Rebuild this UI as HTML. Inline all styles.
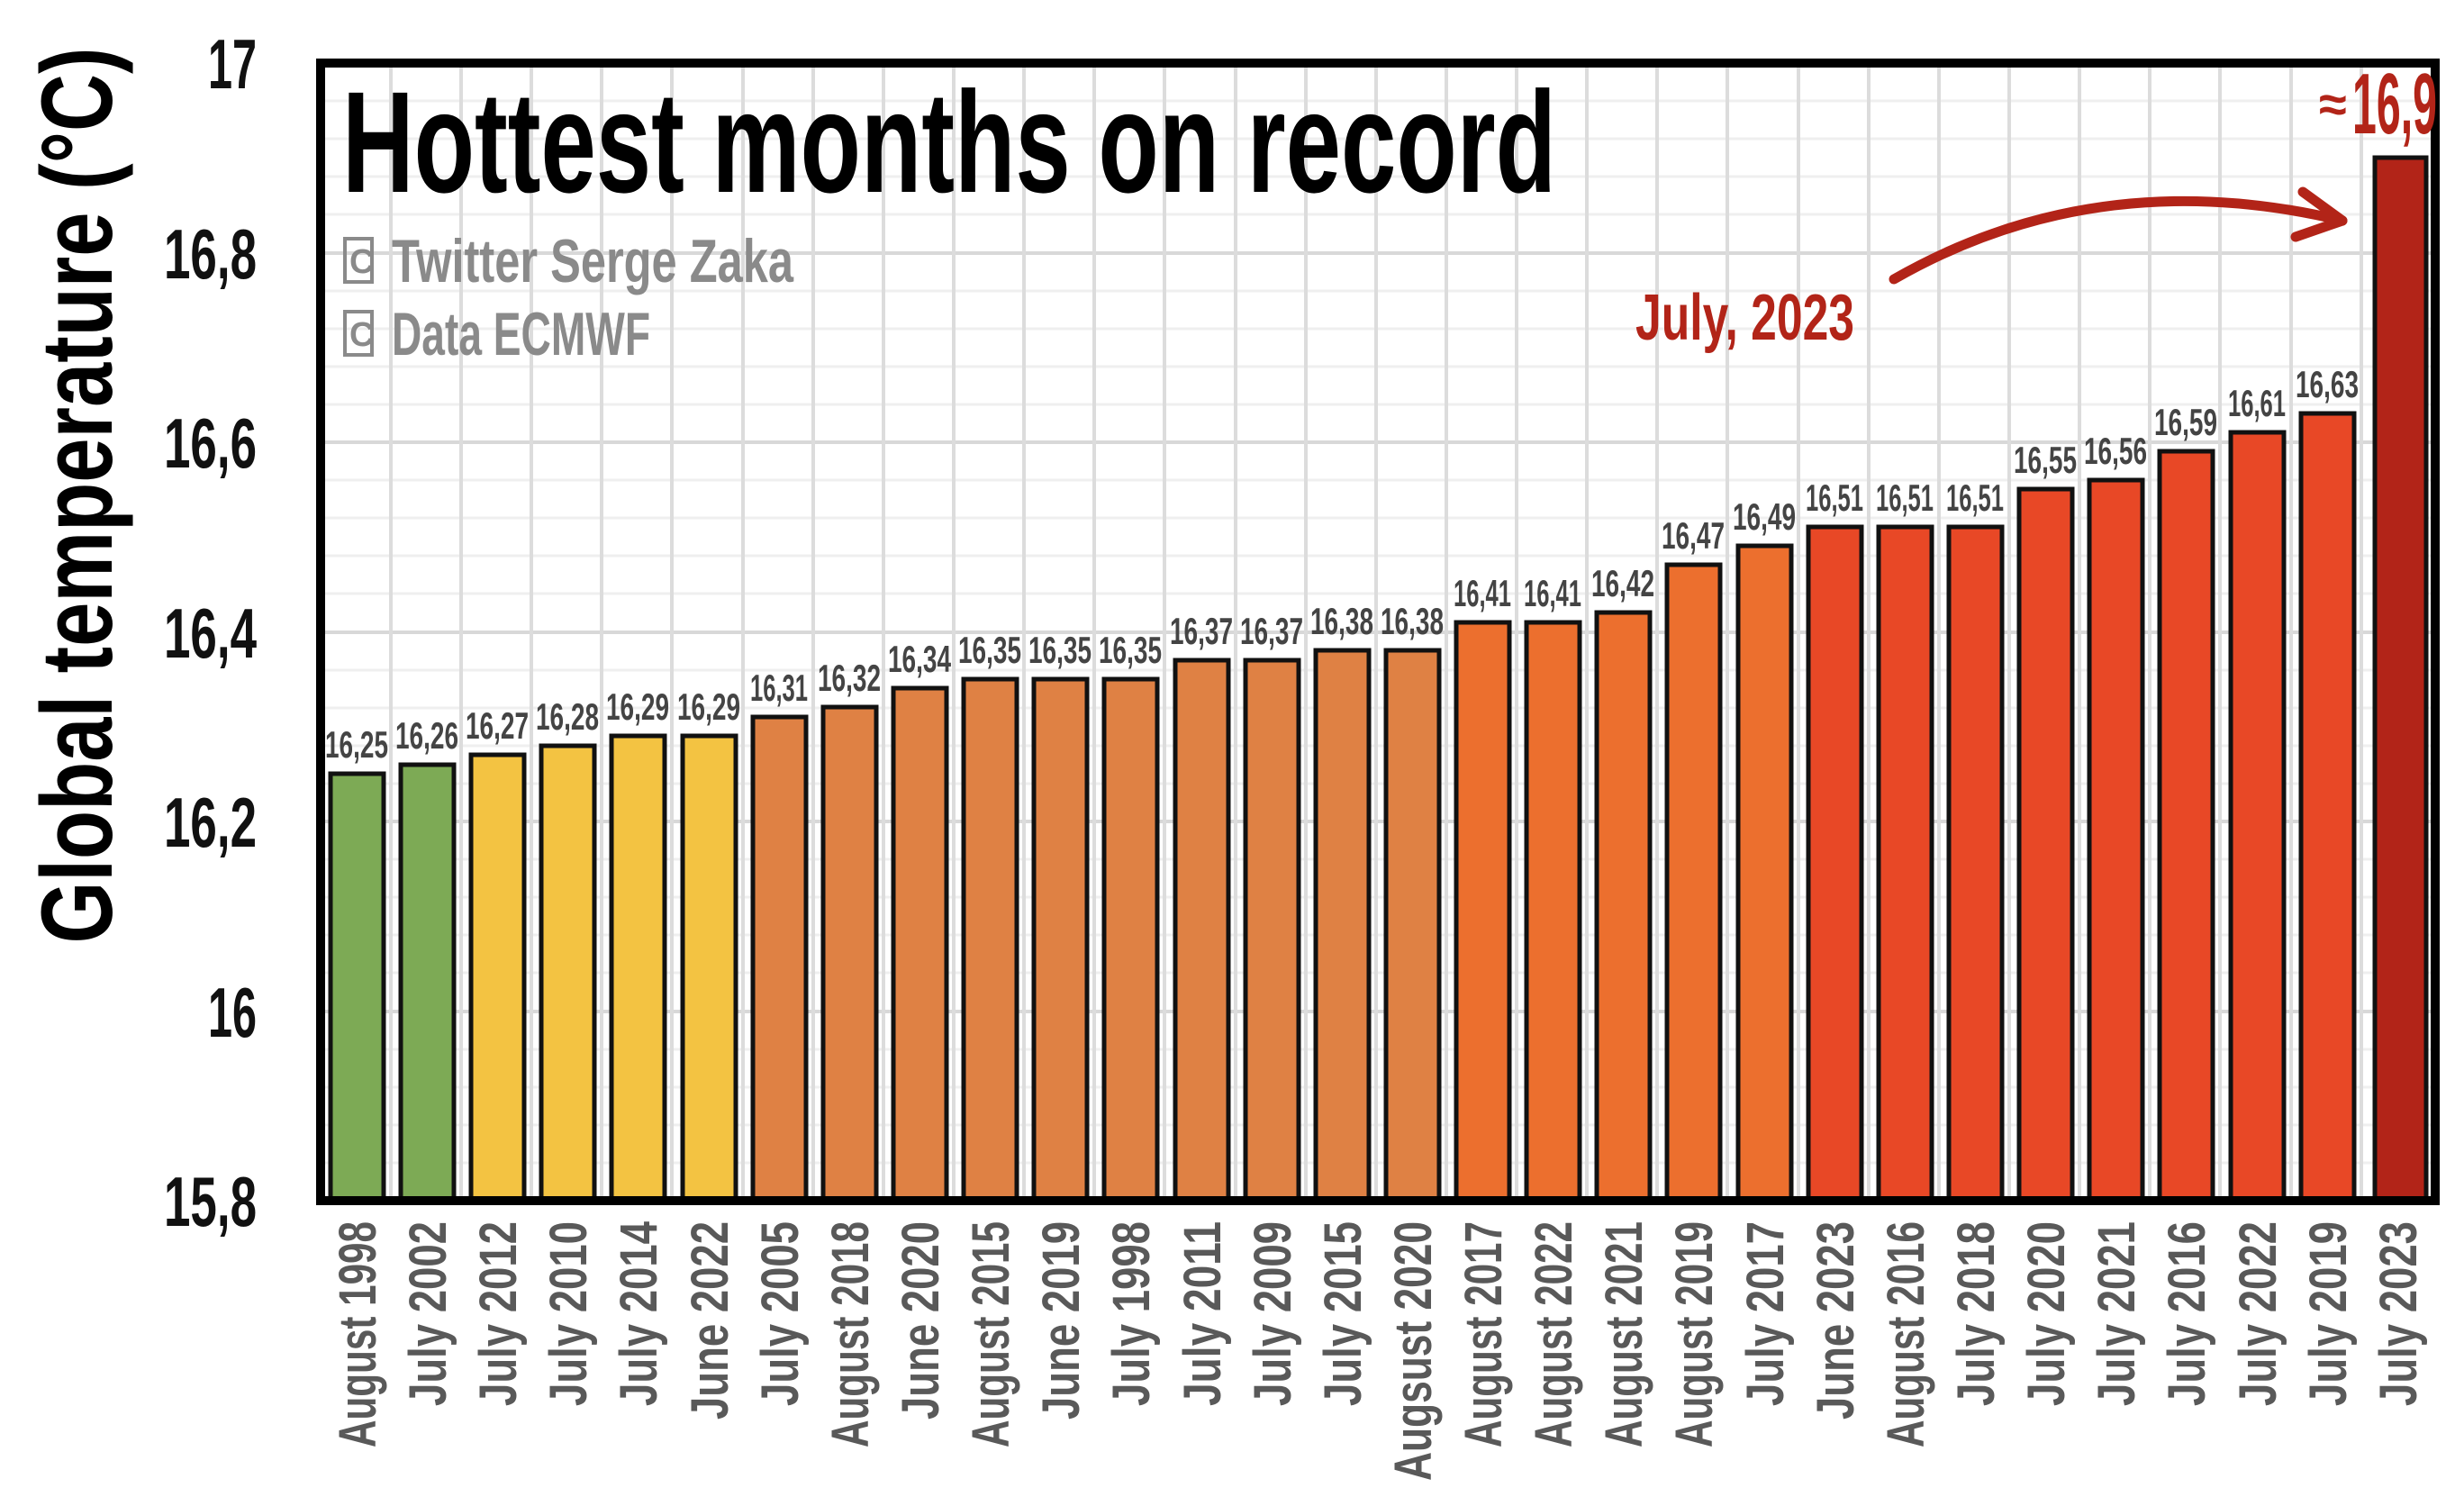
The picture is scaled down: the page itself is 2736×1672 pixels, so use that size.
<!DOCTYPE html>
<html><head><meta charset="utf-8"><style>html,body{margin:0;padding:0;background:#fff}svg{display:block}</style></head>
<body>
<svg width="2736" height="1672" viewBox="0 0 2736 1672" xmlns="http://www.w3.org/2000/svg" font-family="'Liberation Sans Narrow','Liberation Sans',sans-serif" font-weight="bold">
<g stroke="#efefef" stroke-width="3">
<line x1="356" x2="2704" y1="112" y2="112"/><line x1="356" x2="2704" y1="154" y2="154"/><line x1="356" x2="2704" y1="196" y2="196"/><line x1="356" x2="2704" y1="238" y2="238"/>
<line x1="356" x2="2704" y1="323" y2="323"/><line x1="356" x2="2704" y1="365" y2="365"/><line x1="356" x2="2704" y1="407" y2="407"/><line x1="356" x2="2704" y1="449" y2="449"/>
<line x1="356" x2="2704" y1="533" y2="533"/><line x1="356" x2="2704" y1="575" y2="575"/><line x1="356" x2="2704" y1="617" y2="617"/><line x1="356" x2="2704" y1="659" y2="659"/>
<line x1="356" x2="2704" y1="744" y2="744"/><line x1="356" x2="2704" y1="786" y2="786"/><line x1="356" x2="2704" y1="828" y2="828"/><line x1="356" x2="2704" y1="870" y2="870"/>
<line x1="356" x2="2704" y1="954" y2="954"/><line x1="356" x2="2704" y1="996" y2="996"/><line x1="356" x2="2704" y1="1038" y2="1038"/><line x1="356" x2="2704" y1="1080" y2="1080"/>
<line x1="356" x2="2704" y1="1165" y2="1165"/><line x1="356" x2="2704" y1="1207" y2="1207"/><line x1="356" x2="2704" y1="1249" y2="1249"/><line x1="356" x2="2704" y1="1291" y2="1291"/>
</g>
<g stroke="#d8d8d8" stroke-width="4">
<line x1="356" x2="2704" y1="281" y2="281"/><line x1="356" x2="2704" y1="491" y2="491"/><line x1="356" x2="2704" y1="702" y2="702"/><line x1="356" x2="2704" y1="912" y2="912"/><line x1="356" x2="2704" y1="1123" y2="1123"/>
</g>
<g stroke="#dcdcdc" stroke-width="4">
<line x1="434" x2="434" y1="70" y2="1333"/><line x1="512" x2="512" y1="70" y2="1333"/><line x1="590" x2="590" y1="70" y2="1333"/><line x1="668" x2="668" y1="70" y2="1333"/><line x1="746" x2="746" y1="70" y2="1333"/><line x1="825" x2="825" y1="70" y2="1333"/><line x1="903" x2="903" y1="70" y2="1333"/><line x1="981" x2="981" y1="70" y2="1333"/><line x1="1059" x2="1059" y1="70" y2="1333"/><line x1="1137" x2="1137" y1="70" y2="1333"/><line x1="1215" x2="1215" y1="70" y2="1333"/><line x1="1293" x2="1293" y1="70" y2="1333"/><line x1="1372" x2="1372" y1="70" y2="1333"/><line x1="1450" x2="1450" y1="70" y2="1333"/><line x1="1528" x2="1528" y1="70" y2="1333"/><line x1="1606" x2="1606" y1="70" y2="1333"/><line x1="1684" x2="1684" y1="70" y2="1333"/><line x1="1762" x2="1762" y1="70" y2="1333"/><line x1="1840" x2="1840" y1="70" y2="1333"/><line x1="1918" x2="1918" y1="70" y2="1333"/><line x1="1997" x2="1997" y1="70" y2="1333"/><line x1="2075" x2="2075" y1="70" y2="1333"/><line x1="2153" x2="2153" y1="70" y2="1333"/><line x1="2231" x2="2231" y1="70" y2="1333"/><line x1="2309" x2="2309" y1="70" y2="1333"/><line x1="2387" x2="2387" y1="70" y2="1333"/><line x1="2465" x2="2465" y1="70" y2="1333"/><line x1="2544" x2="2544" y1="70" y2="1333"/><line x1="2622" x2="2622" y1="70" y2="1333"/>
</g>
<g stroke="#111" stroke-width="5">
<rect x="367" y="859" width="59" height="474" fill="#7daa55"/>
<rect x="445" y="849" width="59" height="484" fill="#7daa55"/>
<rect x="523" y="838" width="59" height="495" fill="#f3c342"/>
<rect x="601" y="828" width="59" height="505" fill="#f3c342"/>
<rect x="679" y="817" width="59" height="516" fill="#f3c342"/>
<rect x="758" y="817" width="59" height="516" fill="#f3c342"/>
<rect x="836" y="796" width="59" height="537" fill="#df8144"/>
<rect x="914" y="785" width="59" height="548" fill="#df8144"/>
<rect x="992" y="764" width="59" height="569" fill="#df8144"/>
<rect x="1070" y="754" width="59" height="579" fill="#df8144"/>
<rect x="1148" y="754" width="59" height="579" fill="#df8144"/>
<rect x="1226" y="754" width="59" height="579" fill="#df8144"/>
<rect x="1305" y="733" width="59" height="600" fill="#df8144"/>
<rect x="1383" y="733" width="59" height="600" fill="#df8144"/>
<rect x="1461" y="722" width="59" height="611" fill="#df8144"/>
<rect x="1539" y="722" width="59" height="611" fill="#df8144"/>
<rect x="1617" y="691" width="59" height="642" fill="#ec6f2e"/>
<rect x="1695" y="691" width="59" height="642" fill="#ec6f2e"/>
<rect x="1773" y="680" width="59" height="653" fill="#ec6f2e"/>
<rect x="1851" y="627" width="59" height="706" fill="#ec6f2e"/>
<rect x="1930" y="606" width="59" height="727" fill="#ec6f2e"/>
<rect x="2008" y="585" width="59" height="748" fill="#e84826"/>
<rect x="2086" y="585" width="59" height="748" fill="#e84826"/>
<rect x="2164" y="585" width="59" height="748" fill="#e84826"/>
<rect x="2242" y="543" width="59" height="790" fill="#e84826"/>
<rect x="2320" y="533" width="59" height="800" fill="#e84826"/>
<rect x="2398" y="501" width="59" height="832" fill="#e84826"/>
<rect x="2477" y="480" width="59" height="853" fill="#e84826"/>
<rect x="2555" y="459" width="59" height="874" fill="#e84826"/>
<rect x="2637" y="175" width="57" height="1158" fill="#b22418"/>
</g>
<rect x="356" y="70" width="2348" height="1263" fill="none" stroke="#000" stroke-width="10"/>
<g font-size="42" fill="#444" text-anchor="middle">
<text x="396" y="841" textLength="70" lengthAdjust="spacingAndGlyphs">16,25</text>
<text x="474" y="831" textLength="70" lengthAdjust="spacingAndGlyphs">16,26</text>
<text x="552" y="820" textLength="70" lengthAdjust="spacingAndGlyphs">16,27</text>
<text x="630" y="810" textLength="70" lengthAdjust="spacingAndGlyphs">16,28</text>
<text x="708" y="799" textLength="70" lengthAdjust="spacingAndGlyphs">16,29</text>
<text x="787" y="799" textLength="70" lengthAdjust="spacingAndGlyphs">16,29</text>
<text x="865" y="778" textLength="64" lengthAdjust="spacingAndGlyphs">16,31</text>
<text x="943" y="767" textLength="70" lengthAdjust="spacingAndGlyphs">16,32</text>
<text x="1021" y="746" textLength="70" lengthAdjust="spacingAndGlyphs">16,34</text>
<text x="1099" y="736" textLength="70" lengthAdjust="spacingAndGlyphs">16,35</text>
<text x="1177" y="736" textLength="70" lengthAdjust="spacingAndGlyphs">16,35</text>
<text x="1255" y="736" textLength="70" lengthAdjust="spacingAndGlyphs">16,35</text>
<text x="1334" y="715" textLength="70" lengthAdjust="spacingAndGlyphs">16,37</text>
<text x="1412" y="715" textLength="70" lengthAdjust="spacingAndGlyphs">16,37</text>
<text x="1490" y="704" textLength="70" lengthAdjust="spacingAndGlyphs">16,38</text>
<text x="1568" y="704" textLength="70" lengthAdjust="spacingAndGlyphs">16,38</text>
<text x="1646" y="673" textLength="64" lengthAdjust="spacingAndGlyphs">16,41</text>
<text x="1724" y="673" textLength="64" lengthAdjust="spacingAndGlyphs">16,41</text>
<text x="1802" y="662" textLength="70" lengthAdjust="spacingAndGlyphs">16,42</text>
<text x="1880" y="609" textLength="70" lengthAdjust="spacingAndGlyphs">16,47</text>
<text x="1959" y="588" textLength="70" lengthAdjust="spacingAndGlyphs">16,49</text>
<text x="2037" y="567" textLength="64" lengthAdjust="spacingAndGlyphs">16,51</text>
<text x="2115" y="567" textLength="64" lengthAdjust="spacingAndGlyphs">16,51</text>
<text x="2193" y="567" textLength="64" lengthAdjust="spacingAndGlyphs">16,51</text>
<text x="2271" y="525" textLength="70" lengthAdjust="spacingAndGlyphs">16,55</text>
<text x="2349" y="515" textLength="70" lengthAdjust="spacingAndGlyphs">16,56</text>
<text x="2427" y="483" textLength="70" lengthAdjust="spacingAndGlyphs">16,59</text>
<text x="2506" y="462" textLength="64" lengthAdjust="spacingAndGlyphs">16,61</text>
<text x="2584" y="441" textLength="70" lengthAdjust="spacingAndGlyphs">16,63</text>
</g>
<g font-size="58" fill="#595959" text-anchor="end">
<text transform="translate(417,1356) rotate(-90)" textLength="251" lengthAdjust="spacingAndGlyphs">August 1998</text>
<text transform="translate(495,1356) rotate(-90)" textLength="205" lengthAdjust="spacingAndGlyphs">July 2002</text>
<text transform="translate(573,1356) rotate(-90)" textLength="205" lengthAdjust="spacingAndGlyphs">July 2012</text>
<text transform="translate(651,1356) rotate(-90)" textLength="205" lengthAdjust="spacingAndGlyphs">July 2010</text>
<text transform="translate(729,1356) rotate(-90)" textLength="205" lengthAdjust="spacingAndGlyphs">July 2014</text>
<text transform="translate(808,1356) rotate(-90)" textLength="220" lengthAdjust="spacingAndGlyphs">June 2022</text>
<text transform="translate(886,1356) rotate(-90)" textLength="205" lengthAdjust="spacingAndGlyphs">July 2005</text>
<text transform="translate(964,1356) rotate(-90)" textLength="251" lengthAdjust="spacingAndGlyphs">August 2018</text>
<text transform="translate(1042,1356) rotate(-90)" textLength="220" lengthAdjust="spacingAndGlyphs">June 2020</text>
<text transform="translate(1120,1356) rotate(-90)" textLength="251" lengthAdjust="spacingAndGlyphs">August 2015</text>
<text transform="translate(1198,1356) rotate(-90)" textLength="220" lengthAdjust="spacingAndGlyphs">June 2019</text>
<text transform="translate(1276,1356) rotate(-90)" textLength="205" lengthAdjust="spacingAndGlyphs">July 1998</text>
<text transform="translate(1355,1356) rotate(-90)" textLength="205" lengthAdjust="spacingAndGlyphs">July 2011</text>
<text transform="translate(1433,1356) rotate(-90)" textLength="205" lengthAdjust="spacingAndGlyphs">July 2009</text>
<text transform="translate(1511,1356) rotate(-90)" textLength="205" lengthAdjust="spacingAndGlyphs">July 2015</text>
<text transform="translate(1589,1356) rotate(-90)" textLength="288" lengthAdjust="spacingAndGlyphs">Augsust 2020</text>
<text transform="translate(1667,1356) rotate(-90)" textLength="251" lengthAdjust="spacingAndGlyphs">August 2017</text>
<text transform="translate(1745,1356) rotate(-90)" textLength="251" lengthAdjust="spacingAndGlyphs">August 2022</text>
<text transform="translate(1823,1356) rotate(-90)" textLength="251" lengthAdjust="spacingAndGlyphs">August 2021</text>
<text transform="translate(1901,1356) rotate(-90)" textLength="251" lengthAdjust="spacingAndGlyphs">August 2019</text>
<text transform="translate(1980,1356) rotate(-90)" textLength="205" lengthAdjust="spacingAndGlyphs">July 2017</text>
<text transform="translate(2058,1356) rotate(-90)" textLength="220" lengthAdjust="spacingAndGlyphs">June 2023</text>
<text transform="translate(2136,1356) rotate(-90)" textLength="251" lengthAdjust="spacingAndGlyphs">August 2016</text>
<text transform="translate(2214,1356) rotate(-90)" textLength="205" lengthAdjust="spacingAndGlyphs">July 2018</text>
<text transform="translate(2292,1356) rotate(-90)" textLength="205" lengthAdjust="spacingAndGlyphs">July 2020</text>
<text transform="translate(2370,1356) rotate(-90)" textLength="205" lengthAdjust="spacingAndGlyphs">July 2021</text>
<text transform="translate(2448,1356) rotate(-90)" textLength="205" lengthAdjust="spacingAndGlyphs">July 2016</text>
<text transform="translate(2527,1356) rotate(-90)" textLength="205" lengthAdjust="spacingAndGlyphs">July 2022</text>
<text transform="translate(2605,1356) rotate(-90)" textLength="205" lengthAdjust="spacingAndGlyphs">July 2019</text>
<text transform="translate(2683,1356) rotate(-90)" textLength="205" lengthAdjust="spacingAndGlyphs">July 2023</text>
</g>
<g font-size="78" fill="#111" text-anchor="end">
<text x="285" y="98" textLength="54" lengthAdjust="spacingAndGlyphs">17</text>
<text x="285" y="309" textLength="103" lengthAdjust="spacingAndGlyphs">16,8</text>
<text x="285" y="519" textLength="103" lengthAdjust="spacingAndGlyphs">16,6</text>
<text x="285" y="730" textLength="103" lengthAdjust="spacingAndGlyphs">16,4</text>
<text x="285" y="940" textLength="103" lengthAdjust="spacingAndGlyphs">16,2</text>
<text x="285" y="1151" textLength="54" lengthAdjust="spacingAndGlyphs">16</text>
<text x="285" y="1361" textLength="103" lengthAdjust="spacingAndGlyphs">15,8</text>
</g>
<text transform="translate(124,550) rotate(-90)" text-anchor="middle" font-size="112" fill="#000" textLength="995" lengthAdjust="spacingAndGlyphs">Global temperature (°C)</text>
<text x="380" y="213" font-size="160" fill="#000" textLength="1348" lengthAdjust="spacingAndGlyphs">Hottest months on record</text>
<g fill="#8a8a8a" font-size="68">
<rect x="383" y="265" width="30" height="48" fill="none" stroke="#8a8a8a" stroke-width="4"/>
<text x="388" y="303" font-size="38">C</text>
<text x="435" y="313" textLength="446" lengthAdjust="spacingAndGlyphs">Twitter Serge Zaka</text>
<rect x="383" y="346" width="30" height="48" fill="none" stroke="#8a8a8a" stroke-width="4"/>
<text x="388" y="384" font-size="38">C</text>
<text x="435" y="394" textLength="287" lengthAdjust="spacingAndGlyphs">Data ECMWF</text>
</g>
<text x="1816" y="377" font-size="72" fill="#b22418" textLength="243" lengthAdjust="spacingAndGlyphs">July, 2023</text>
<g fill="none" stroke="#b22418" stroke-width="11" stroke-linecap="round" stroke-linejoin="round">
<path d="M2103 310 Q 2330 180 2601 245"/>
<path d="M2557 213 L2601 245 L2549 263"/>
</g>
<text x="2575" y="135" font-size="56" fill="#b22418">≈</text>
<text x="2612" y="148" font-size="96" fill="#b22418" textLength="94" lengthAdjust="spacingAndGlyphs">16,9</text>
</svg>
</body></html>
